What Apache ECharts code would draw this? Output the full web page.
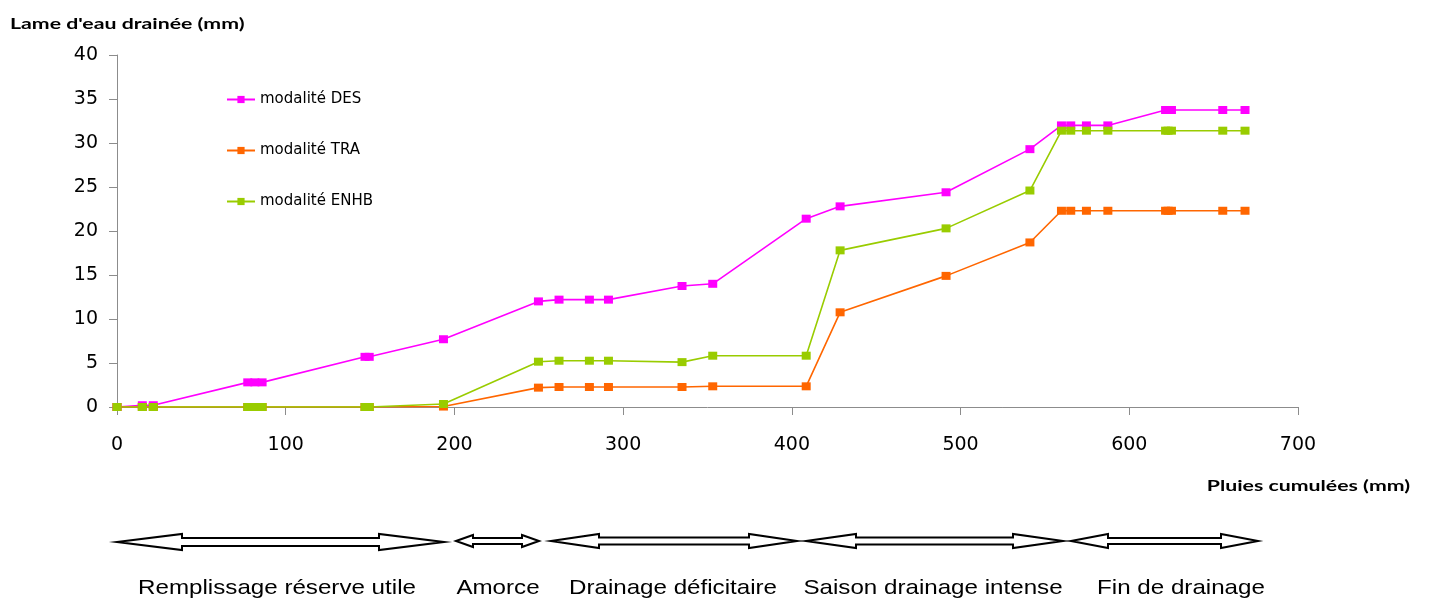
<!DOCTYPE html>
<html>
<head>
<meta charset="utf-8">
<script src="https://cdn.jsdelivr.net/npm/echarts@6/dist/echarts.min.js"></script>
<style>
html,body{margin:0;padding:0;background:#fff;}
#chart{width:1429px;height:604px;}
</style>
</head>
<body>
<div id="chart"></div>
<script>
// Cumulative rainfall (mm) at each measurement date
const pluies = [0, 15, 21.5, 77.5, 81.7, 86, 147, 149.5, 193.5, 249.8, 262, 280, 291.3, 334.9, 353.1, 408.5, 428.6, 491.4, 541.1, 559.8, 565.3, 574.6, 587.3, 621.5, 623, 625, 655.4, 668.6];
// Drained water (mm)
const des  = [0, 0.2, 0.2, 2.8, 2.8, 2.8, 5.7, 5.7, 7.7, 12.0, 12.2, 12.2, 12.2, 13.75, 14.0, 21.4, 22.8, 24.4, 29.3, 32.0, 32.0, 32.0, 32.0, 33.75, 33.75, 33.75, 33.75, 33.75];
const tra  = [0, 0, 0, 0, 0, 0, 0, 0, 0.05, 2.2, 2.27, 2.27, 2.27, 2.27, 2.35, 2.35, 10.76, 14.9, 18.7, 22.3, 22.3, 22.3, 22.3, 22.3, 22.3, 22.3, 22.3, 22.3];
const enhb = [0, 0, 0, 0, 0, 0, 0, 0, 0.34, 5.15, 5.26, 5.26, 5.26, 5.1, 5.83, 5.83, 17.8, 20.3, 24.6, 31.4, 31.4, 31.4, 31.4, 31.4, 31.4, 31.4, 31.4, 31.4];
const seriesNames = ['modalité DES', 'modalité TRA', 'modalité ENHB'];
const phases = ['Remplissage réserve utile', 'Amorce', 'Drainage déficitaire', 'Saison drainage intense', 'Fin de drainage'];
const yTitle = "Lame d'eau drainée (mm)";
const xTitle = 'Pluies cumulées (mm)';

const colors = ['#FF00FF', '#FF6600', '#99CC00'];
const chart = echarts.init(document.getElementById('chart'), null, {renderer: 'canvas'});

function pairs(ys){ return pluies.map((x,i)=>[x, ys[i]]); }

// double-headed hollow arrow polygon
function arrow(x1, x2, cy, head, hh, sh){
  return {
    type: 'polygon',
    shape: {points: [
      [x1, cy], [x1+head, cy-hh], [x1+head, cy-sh], [x2-head, cy-sh], [x2-head, cy-hh],
      [x2, cy], [x2-head, cy+hh], [x2-head, cy+sh], [x1+head, cy+sh], [x1+head, cy+hh]
    ]},
    style: {fill: '#fff', stroke: '#000', lineWidth: 2},
    silent: true
  };
}
const arrowSpec = [
  [117, 444, 542, 65, 8, 4],
  [456, 539, 541, 17, 6, 3],
  [551, 797, 541, 48, 7, 3.5],
  [806, 1063, 541, 50, 7, 3.5],
  [1071, 1258, 541, 37, 7, 3]
];
const labelX = [277, 498, 673, 933, 1181];

const graphics = [];
arrowSpec.forEach(a => graphics.push(arrow.apply(null, a)));
phases.forEach((p, i) => graphics.push({
  type: 'text', x: labelX[i], y: 578, scaleX: 1.15,
  style: {text: p, fontFamily: 'Liberation Sans, Arial, sans-serif', fontSize: 21, fill: '#000', align: 'center', verticalAlign: 'top'},
  silent: true
}));
graphics.push({type: 'text', x: 10, y: 16, scaleX: 1.33,
  style: {text: yTitle, fontFamily: 'Lato, Liberation Sans, sans-serif', fontWeight: 'bold', fontSize: 16, fill: '#000', align: 'left', verticalAlign: 'top'}});
graphics.push({type: 'text', x: 1410, y: 478, scaleX: 1.33,
  style: {text: xTitle, fontFamily: 'Lato, Liberation Sans, sans-serif', fontWeight: 'bold', fontSize: 16, fill: '#000', align: 'right', verticalAlign: 'top'}});

const lbl = {fontFamily: 'DejaVu Sans, sans-serif', fontSize: 19, color: '#000'};
chart.setOption({
  animation: false,
  backgroundColor: '#fff',
  color: colors,
  grid: {left: 117, right: 131, top: 55, bottom: 197, containLabel: false},
  legend: {
    orient: 'vertical', left: 221, top: 87, itemGap: 36, itemWidth: 28, itemHeight: 9,
    textStyle: {fontFamily: 'DejaVu Sans, sans-serif', fontSize: 15, color: '#000'},
    data: seriesNames
  },
  xAxis: {
    type: 'value', min: 0, max: 700, interval: 100,
    axisLine: {show: true, lineStyle: {color: '#8c8c8c'}},
    axisTick: {show: true, length: 8, inside: false, lineStyle: {color: '#8c8c8c'}},
    splitLine: {show: false},
    axisLabel: Object.assign({margin: 29}, lbl)
  },
  yAxis: {
    type: 'value', min: 0, max: 40, interval: 5,
    axisLine: {show: true, lineStyle: {color: '#8c8c8c'}},
    axisTick: {show: true, length: 8, lineStyle: {color: '#8c8c8c'}},
    splitLine: {show: false},
    axisLabel: Object.assign({margin: 19}, lbl)
  },
  series: [des, tra, enhb].map((d, i) => ({
    name: seriesNames[i],
    type: 'line',
    data: pairs(d),
    symbol: 'rect',
    symbolSize: [9, 8],
    showSymbol: true,
    lineStyle: {width: 1.6, color: colors[i]},
    itemStyle: {color: colors[i]}
  })),
  graphic: graphics
});
</script>
</body>
</html>
